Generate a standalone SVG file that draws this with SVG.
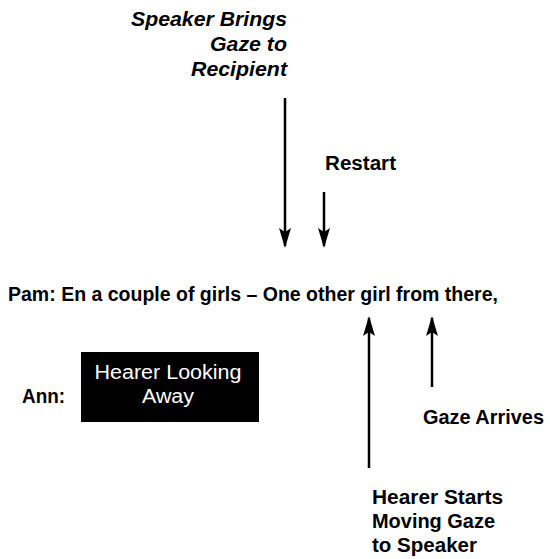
<svg xmlns="http://www.w3.org/2000/svg" width="550" height="559" viewBox="0 0 550 559">
<style>
text{font-family:"Liberation Sans",Arial,sans-serif;font-size:20px;fill:#000}
.b{font-weight:bold}
.bi{font-weight:bold;font-style:italic}
.w{fill:#fff}
.ln{stroke:#000;stroke-width:2.5;fill:none}
</style>
<defs>
<marker id="ah" markerWidth="20" markerHeight="12" refX="18" refY="6" orient="auto" markerUnits="userSpaceOnUse" viewBox="0 0 20 12">
<path d="M0,0 L20,6 L0,12 L4,6 Z" fill="#000"/>
</marker>
</defs>
<rect width="550" height="559" fill="#fff"/>
<g id="connectors">
<line class="ln" x1="285" y1="98" x2="285" y2="246" marker-end="url(#ah)"/>
<line class="ln" x1="324" y1="192" x2="324" y2="246" marker-end="url(#ah)"/>
<line class="ln" x1="369" y1="468" x2="369" y2="318" marker-end="url(#ah)"/>
<line class="ln" x1="432" y1="387" x2="432" y2="318" marker-end="url(#ah)"/>
</g>
<g id="speaker-brings">
<text class="bi" text-anchor="end" x="287" y="26" textLength="156" lengthAdjust="spacingAndGlyphs">Speaker Brings</text>
<text class="bi" text-anchor="end" x="287" y="51" textLength="77" lengthAdjust="spacingAndGlyphs">Gaze to</text>
<text class="bi" text-anchor="end" x="287" y="76" textLength="96" lengthAdjust="spacingAndGlyphs">Recipient</text>
</g>
<g id="restart">
<text class="b" x="325" y="170" textLength="71" lengthAdjust="spacingAndGlyphs">Restart</text>
</g>
<g id="pam">
<text class="b" x="8" y="301" textLength="490" lengthAdjust="spacingAndGlyphs">Pam: En a couple of girls – One other girl from there,</text>
</g>
<g id="ann">
<text class="b" x="22" y="403" textLength="43" lengthAdjust="spacingAndGlyphs">Ann:</text>
</g>
<g id="hearer-looking-away">
<rect x="81" y="352" width="178" height="70" fill="#000"/>
<text class="w" text-anchor="middle" x="168" y="379" textLength="147" lengthAdjust="spacingAndGlyphs">Hearer Looking</text>
<text class="w" text-anchor="middle" x="168" y="403" textLength="52" lengthAdjust="spacingAndGlyphs">Away</text>
</g>
<g id="gaze-arrives">
<text class="b" x="423" y="424" textLength="121" lengthAdjust="spacingAndGlyphs">Gaze Arrives</text>
</g>
<g id="hearer-starts">
<text class="b" x="372" y="504" textLength="131" lengthAdjust="spacingAndGlyphs">Hearer Starts</text>
<text class="b" x="372" y="528" textLength="123" lengthAdjust="spacingAndGlyphs">Moving Gaze</text>
<text class="b" x="372" y="552" textLength="105" lengthAdjust="spacingAndGlyphs">to Speaker</text>
</g>
</svg>
